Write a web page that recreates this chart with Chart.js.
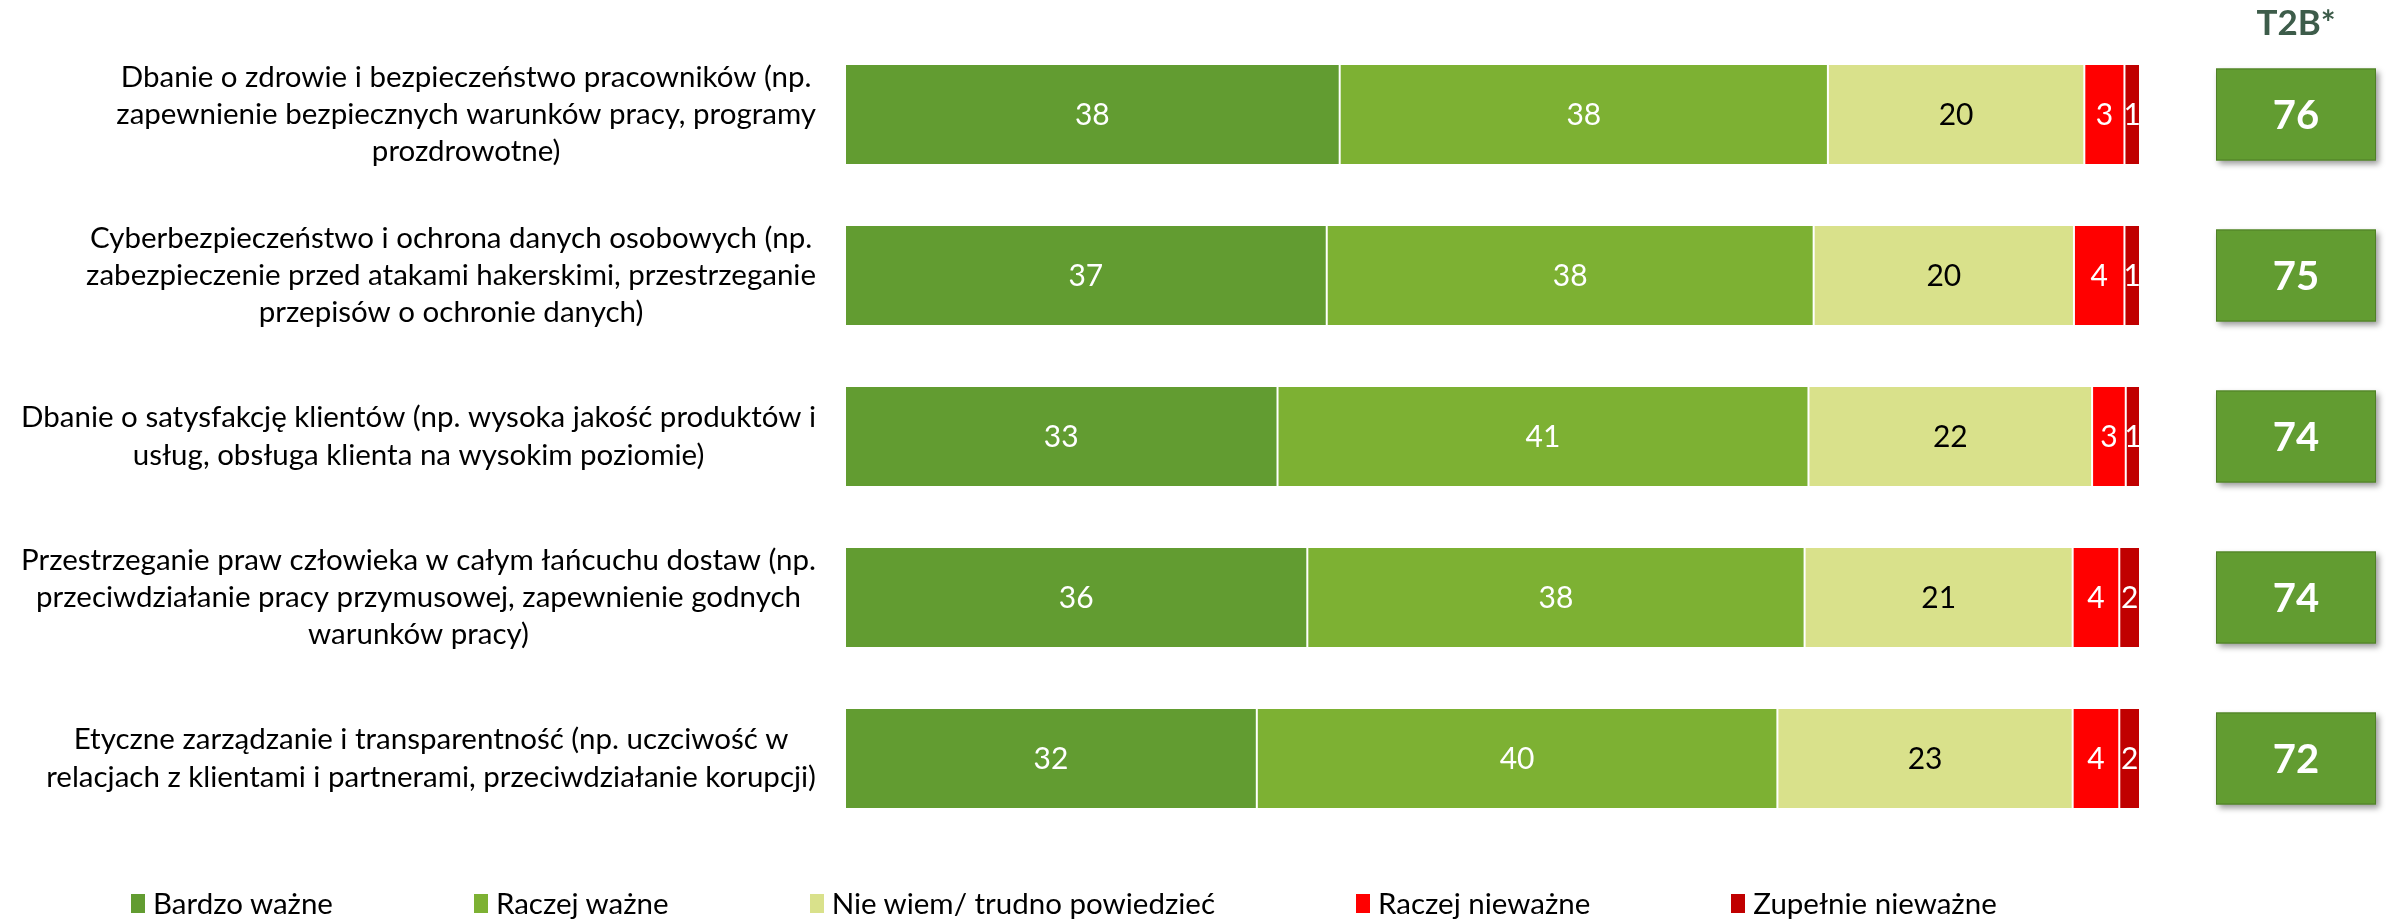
<!DOCTYPE html>
<html lang="pl">
<head>
<meta charset="utf-8">
<title>Ważność obszarów</title>
<script src="https://cdn.jsdelivr.net/npm/chart.js@4.4.1/dist/chart.umd.min.js"></script>
<style>
    html, body { margin: 0; padding: 0; background: #fff; }
    #wrap { position: relative; width: 2387px; height: 920px; }
    #chart { position: absolute; left: 0; top: 0; }
    #legend {
        position: absolute; left: 131px; top: 884px;
        display: flex; gap: 141px;
        font: 29.5px Lato, sans-serif; color: #000; line-height: 38px;
    }
    #legend .item { display: flex; align-items: center; white-space: nowrap; }
    #legend .sw { width: 14px; height: 19px; margin-right: 8px; }
</style>
</head>
<body>
<div id="wrap">
    <canvas id="chart" width="2387" height="920"></canvas>
    <div id="legend"></div>
</div>
<script>
const categories = [
    ['Dbanie o zdrowie i bezpieczeństwo pracowników (np.', 'zapewnienie bezpiecznych warunków pracy, programy', 'prozdrowotne)'],
    ['Cyberbezpieczeństwo i ochrona danych osobowych (np.', 'zabezpieczenie przed atakami hakerskimi, przestrzeganie', 'przepisów o ochronie danych)'],
    ['Dbanie o satysfakcję klientów (np. wysoka jakość produktów i', 'usług, obsługa klienta na wysokim poziomie)'],
    ['Przestrzeganie praw człowieka w całym łańcuchu dostaw (np.', 'przeciwdziałanie pracy przymusowej, zapewnienie godnych', 'warunków pracy)'],
    ['Etyczne zarządzanie i transparentność (np. uczciwość w', 'relacjach z klientami i partnerami, przeciwdziałanie korupcji)'],
];

const seriesNames = ['Bardzo ważne', 'Raczej ważne', 'Nie wiem/ trudno powiedzieć', 'Raczej nieważne', 'Zupełnie nieważne'];
const bardzoWazne      = [38.2, 37.2, 33.4, 35.7, 31.8];
const raczejWazne      = [37.7, 37.6, 41.0, 38.4, 40.2];
const nieWiem          = [19.8, 20.1, 21.9, 20.7, 22.8];
const raczejNiewazne   = [3.1, 3.9, 2.6, 3.6, 3.6];
const zupelnieNiewazne = [1.2, 1.2, 1.1, 1.6, 1.6];
const t2b = [76, 75, 74, 74, 72];

const seriesColors = ['#629C31', '#7DB133', '#D9E18B', '#FF0000', '#C00000'];
const labelColors = ['#fff', '#fff', '#000', '#fff', '#fff'];

const FONT = 'Lato, sans-serif';

// Etykiety kategorii: każdy blok wyrównany do prawej, wiersze wyśrodkowane.
const categoryLabels = {
    id: 'categoryLabels',
    afterDraw(chart) {
        const ctx = chart.ctx;
        const y = chart.scales.y;
        const right = chart.chartArea.left - 29;
        const lh = 37.3;
        ctx.save();
        ctx.font = '29.5px ' + FONT;
        ctx.fillStyle = '#000';
        ctx.textAlign = 'center';
        ctx.textBaseline = 'middle';
        categories.forEach(function (lines, i) {
            const widest = Math.max(...lines.map((l) => ctx.measureText(l).width));
            const cx = right - widest / 2;
            const cy = y.getPixelForValue(i);
            lines.forEach(function (l, k) {
                ctx.fillText(l, cx, cy + (k - (lines.length - 1) / 2) * lh);
            });
        });
        ctx.restore();
    },
};

// Wartości w segmentach (zaokrąglone).
const segmentLabels = {
    id: 'segmentLabels',
    afterDatasetsDraw(chart) {
        const ctx = chart.ctx;
        ctx.save();
        ctx.font = '30px ' + FONT;
        ctx.textAlign = 'center';
        ctx.textBaseline = 'middle';
        chart.data.datasets.forEach(function (ds, i) {
            chart.getDatasetMeta(i).data.forEach(function (bar, j) {
                const p = bar.getProps(['x', 'y', 'base'], true);
                ctx.fillStyle = labelColors[i];
                ctx.fillText(String(Math.round(ds.data[j])), (p.x + p.base) / 2, p.y + 1);
            });
        });
        ctx.restore();
    },
};

// Kolumna T2B* po prawej stronie.
const t2bBoxes = {
    id: 't2bBoxes',
    afterDraw(chart) {
        const ctx = chart.ctx;
        const y = chart.scales.y;
        const x0 = 2216, w = 160, h = 92;
        const cx = x0 + w / 2;
        ctx.save();
        ctx.font = 'bold 35px ' + FONT;
        ctx.fillStyle = '#3D5C4A';
        ctx.textAlign = 'center';
        ctx.textBaseline = 'middle';
        ctx.fillText('T2B*', cx, 24);
        t2b.forEach(function (v, i) {
            const cy = y.getPixelForValue(i);
            ctx.save();
            ctx.shadowColor = 'rgba(0,0,0,0.4)';
            ctx.shadowBlur = 6;
            ctx.shadowOffsetX = 3;
            ctx.shadowOffsetY = 3;
            ctx.fillStyle = '#629C31';
            ctx.fillRect(x0, cy - h / 2, w, h);
            ctx.restore();
            ctx.strokeStyle = '#4F7F27';
            ctx.lineWidth = 1;
            ctx.strokeRect(x0 + 0.5, cy - h / 2 + 0.5, w - 1, h - 1);
            ctx.fillStyle = '#fff';
            ctx.font = 'bold 40px ' + FONT;
            ctx.fillText(String(v), cx, cy + 2);
        });
        ctx.restore();
    },
};

function buildLegend() {
    const el = document.getElementById('legend');
    seriesNames.forEach(function (name, i) {
        const item = document.createElement('div');
        item.className = 'item';
        const sw = document.createElement('span');
        sw.className = 'sw';
        sw.style.background = seriesColors[i];
        const tx = document.createElement('span');
        tx.textContent = name;
        item.appendChild(sw);
        item.appendChild(tx);
        el.appendChild(item);
    });
}

function draw() {
    const values = [bardzoWazne, raczejWazne, nieWiem, raczejNiewazne, zupelnieNiewazne];
    new Chart(document.getElementById('chart'), {
        type: 'bar',
        data: {
            labels: categories,
            datasets: values.map((data, i) => ({
                label: seriesNames[i],
                data,
                backgroundColor: seriesColors[i],
                borderColor: '#fff',
                borderWidth: { left: 1, right: 1, top: 0, bottom: 0 },
                borderSkipped: false,
                barPercentage: 0.615,
                categoryPercentage: 1,
            })),
        },
        options: {
            indexAxis: 'y',
            responsive: false,
            animation: false,
            layout: { padding: { left: 845, right: 247, top: 34, bottom: 81 } },
            plugins: {
                legend: { display: false },
                tooltip: { enabled: false },
            },
            scales: {
                x: { stacked: true, min: 0, max: 100, display: false },
                y: { stacked: true, display: false },
            },
        },
        plugins: [categoryLabels, segmentLabels, t2bBoxes],
    });
}

buildLegend();
Promise.all([
    document.fonts.load('30px Lato'),
    document.fonts.load('bold 40px Lato'),
]).then(draw, draw);
</script>
</body>
</html>
